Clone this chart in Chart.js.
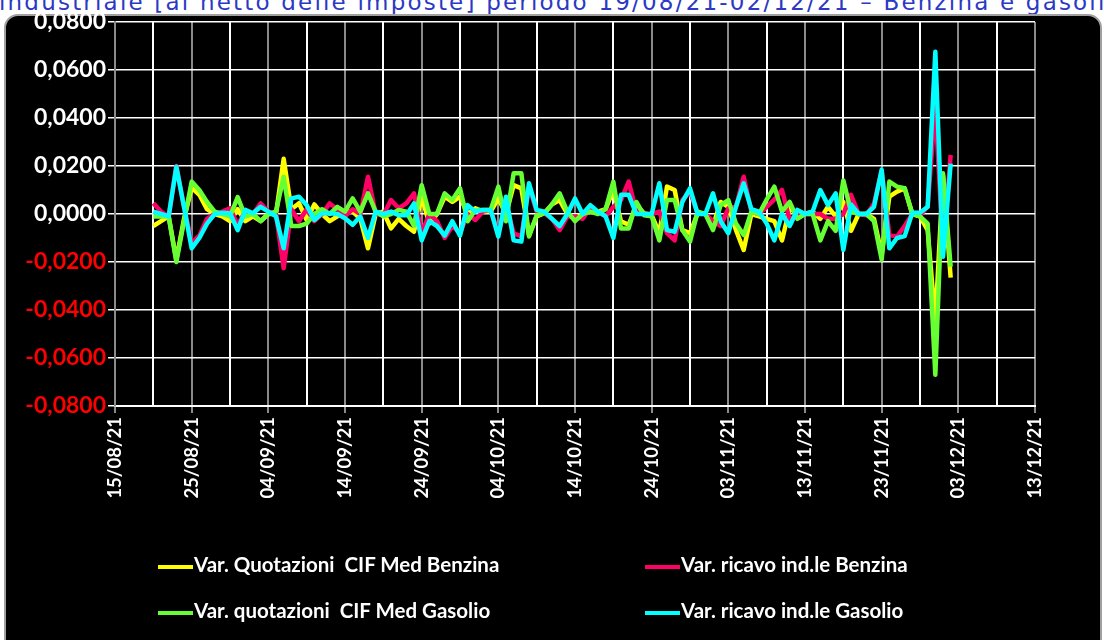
<!DOCTYPE html>
<html>
<head>
<meta charset="utf-8">
<script src="https://cdn.jsdelivr.net/npm/chart.js@4/dist/chart.umd.min.js"></script>
<style>
  body { margin: 0; background: #fff; width: 1104px; height: 640px; overflow: hidden; position: relative; }
  #title { position: absolute; left: -1px; top: -11px; white-space: nowrap; font: 23px "DejaVu Sans", sans-serif; letter-spacing: 2.2px; color: #2b39c4; }
  #box { position: absolute; left: 4px; top: 14px; width: 1094px; height: 660px; background: #000; border: 2px solid #a0a0a0; border-radius: 14px; }
  #myChart { position: absolute; left: 0; top: 0; }
  .leg { position: absolute; font: bold 20.5px Lato, sans-serif; color: #fff; white-space: nowrap; line-height: 22px; }
  .leg span { display: inline-block; width: 35px; height: 4px; vertical-align: middle; margin-right: 1px; }
</style>
</head>
<body>
<div id="title">industriale [al netto delle imposte] periodo 19/08/21-02/12/21 – Benzina e gasolio</div>
<div id="box"></div>
<canvas id="myChart" width="1104" height="640"></canvas>
<div id="legend"></div>
<script>
// giorni contati dal 15/08/21, un punto al giorno dal 20/08/21
const firstDay = 5
const startDate = new Date(2021, 7, 15)

const labels = ['Var. Quotazioni  CIF Med Benzina', 'Var. ricavo ind.le Benzina',
  'Var. quotazioni  CIF Med Gasolio', 'Var. ricavo ind.le Gasolio']
const colors = ['#ffff00', '#ff0066', '#66ff33', '#00ffff']

const cifBenzina = [
  -0.005, -0.003, -0.001, -0.019, -0.002, 0.011, 0.008, 0.002, 0.0, -0.001,
  -0.003, 0.002, -0.003, -0.001, -0.003, 0.0, 0.0, 0.023, 0.002, 0.0045,
  -0.0025, 0.004, 0.0, -0.003, -0.001, 0.001, 0.001, -0.002, -0.0143, 0.0,
  0.001, -0.006, -0.002, -0.005, -0.0074, 0.0072, -0.004, 0.0, 0.0072, 0.005,
  0.0072, 0.0, 0.0024, 0.001, 0.001, 0.0065, 0.0, 0.012, 0.0107, -0.0088,
  -0.001, 0.0003, 0.004, 0.0058, 0.0, -0.002, 0.0, 0.001, 0.001, 0.002,
  0.010, -0.003, -0.0045, 0.0037, 0.0003, -0.0005, -0.008, 0.0114, 0.010, -0.0067,
  -0.008, 0.0003, 0.0003, -0.005, 0.005, 0.003, -0.0067, -0.015, 0.0, -0.001,
  -0.002, -0.003, -0.011, 0.0024, 0.0, 0.0, 0.001, -0.002, 0.003, -0.001,
  0.005, -0.007, 0.0, 0.0, -0.002, -0.017, 0.0072, 0.0093, 0.0107, 0.0,
  -0.001, -0.0067, -0.045, 0.016, -0.0265
]

const ricavoBenzina = [
  0.0045, 0.001, -0.001, 0.020, 0.003, -0.012, -0.009, -0.002, 0.0, 0.001,
  0.0024, -0.0045, 0.001, 0.0, 0.0044, 0.001, 0.0, -0.0226, 0.002, -0.003,
  0.002, -0.003, 0.0, 0.0044, 0.002, -0.001, 0.002, 0.0, 0.0155, 0.0,
  -0.0005, 0.0058, 0.0024, 0.0044, 0.0086, -0.008, 0.0, -0.003, -0.010, -0.005,
  -0.008, 0.0, -0.0025, 0.001, 0.0017, -0.008, 0.004, -0.008, -0.0094, 0.0114,
  0.001, 0.0003, -0.002, -0.0067, -0.001, -0.001, -0.002, 0.0024, 0.001, -0.001,
  0.003, 0.0058, 0.0135, 0.001, 0.0, 0.0, 0.001, -0.008, -0.011, 0.0058,
  0.0093, 0.0003, 0.0, -0.003, -0.005, 0.0024, 0.003, 0.0155, 0.001, 0.0,
  0.003, 0.006, 0.01, -0.0025, 0.0, 0.0, 0.0, 0.0, -0.002, -0.002,
  0.0, 0.008, 0.0, -0.0005, 0.0044, 0.018, -0.0088, -0.0094, -0.005, 0.0,
  -0.0005, 0.003, 0.045, -0.015, 0.0246
]

const cifGasolio = [
  -0.001, -0.001, -0.001, -0.020, -0.003, 0.0135, 0.010, 0.005, 0.001, 0.0,
  -0.001, 0.007, -0.001, 0.0, -0.003, 0.0, 0.001, 0.0155, -0.005, -0.005,
  -0.004, 0.0, 0.002, 0.0, 0.003, 0.001, 0.0065, 0.001, 0.0086, 0.001,
  -0.001, 0.0, 0.0017, 0.001, -0.005, 0.012, 0.0, 0.0, 0.0086, 0.0058,
  0.0107, -0.003, 0.0017, 0.0017, 0.0017, 0.0114, -0.003, 0.017, 0.017, -0.0094,
  -0.0005, 0.0003, 0.004, 0.0086, 0.001, -0.003, 0.0, 0.001, 0.0, 0.002,
  0.0135, -0.006, -0.006, 0.005, -0.0005, -0.001, -0.011, 0.0058, 0.0058, -0.0067,
  -0.0115, 0.001, 0.0, -0.0067, 0.0037, 0.0058, -0.004, -0.0088, 0.001, 0.0,
  0.006, 0.0114, 0.001, 0.005, -0.002, 0.0, 0.0, -0.011, -0.003, -0.007,
  0.014, 0.001, 0.0, 0.0, -0.003, -0.019, 0.0135, 0.0114, 0.0107, 0.0,
  -0.001, -0.004, -0.067, 0.017, -0.022
]

const ricavoGasolio = [
  0.001, 0.0, -0.001, 0.0197, 0.003, -0.0143, -0.010, -0.004, 0.0, 0.0005,
  0.0003, -0.0067, 0.0017, 0.0003, 0.003, 0.001, -0.001, -0.0143, 0.0065, 0.0072,
  0.0037, -0.0025, 0.0003, 0.0003, 0.0, -0.0018, -0.0045, -0.001, -0.010, 0.001,
  0.0, 0.001, -0.0005, -0.0005, 0.0044, -0.011, -0.003, -0.005, -0.009, -0.003,
  -0.009, 0.0037, 0.001, 0.0017, 0.0017, -0.0094, 0.0072, -0.011, -0.0115, 0.0128,
  0.0017, 0.001, -0.002, -0.005, 0.0, 0.0065, 0.0, 0.0037, 0.001, -0.001,
  -0.010, 0.008, 0.008, 0.0, 0.0, 0.0, 0.0128, -0.0067, -0.0074, 0.005,
  0.0107, 0.0, 0.0, 0.0086, -0.003, -0.008, 0.003, 0.0128, 0.002, 0.001,
  -0.004, -0.011, 0.0, -0.005, 0.0017, 0.0, 0.001, 0.010, 0.0037, 0.0086,
  -0.015, 0.004, 0.0, 0.0, 0.003, 0.0185, -0.0143, -0.010, -0.0092, 0.0005,
  0.0005, 0.003, 0.0676, -0.0178, 0.021
]

const series = [cifBenzina, ricavoBenzina, cifGasolio, ricavoGasolio]

function fmtDate(d) {
  const dt = new Date(startDate.getFullYear(), startDate.getMonth(), startDate.getDate() + d)
  const dd = String(dt.getDate()).padStart(2, '0')
  const mm = String(dt.getMonth() + 1).padStart(2, '0')
  return dd + '/' + mm + '/' + String(dt.getFullYear()).slice(2)
}

const ctx = document.getElementById('myChart')

new Chart(ctx, {
  type: 'line',
  data: {
    datasets: series.map((s, i) => ({
      label: labels[i],
      data: s.map((v, j) => ({ x: firstDay + j, y: v })),
      borderColor: colors[i],
      backgroundColor: colors[i],
      borderWidth: 4.5,
      pointRadius: 0,
      tension: 0,
      borderJoinStyle: 'round',
      order: 4 - i
    }))
  },
  options: {
    responsive: false,
    animation: false,
    devicePixelRatio: 1,
    layout: { padding: { top: 22, right: 69, left: 0, bottom: 0 } },
    plugins: { legend: { display: false }, tooltip: { enabled: false } },
    scales: {
      x: {
        type: 'linear',
        min: 0,
        max: 120,
        afterFit: (scale) => { scale.height = 234 },
        ticks: {
          stepSize: 5,
          autoSkip: false,
          maxRotation: 90,
          minRotation: 90,
          padding: 4,
          color: '#fff',
          font: { family: 'Lato', weight: 'bold', size: 18.5 },
          callback: (v) => v % 10 === 0 ? fmtDate(v) : ''
        },
        grid: {
          color: (c) => c.tick && c.tick.value % 10 === 0 ? '#8a8a8a' : '#ffffff',
          tickColor: (c) => c.tick && c.tick.value % 10 === 0 ? '#8a8a8a' : 'rgba(0,0,0,0)',
          lineWidth: 2,
          tickLength: 7
        },
        border: { color: '#ffffff', width: 2 }
      },
      y: {
        min: -0.08,
        max: 0.08,
        afterFit: (scale) => { scale.width = 115 },
        ticks: {
          stepSize: 0.02,
          padding: 2,
          color: (c) => c.tick.value < -0.0001 ? '#ff0000' : '#ffffff',
          font: { family: 'Lato', weight: 'bold', size: 23 },
          callback: (v) => v.toFixed(4).replace('.', ',')
        },
        grid: { color: '#ffffff', lineWidth: 1.5, tickLength: 7, tickColor: '#ffffff' },
        border: { color: '#8a8a8a', width: 2 }
      }
    }
  }
})

// legenda su due colonne
const legPos = [[158, 553], [645, 553], [158, 599], [645, 599]]
const legend = document.getElementById('legend')
labels.forEach((t, i) => {
  const d = document.createElement('div')
  d.className = 'leg'
  d.style.left = legPos[i][0] + 'px'
  d.style.top = legPos[i][1] + 'px'
  d.innerHTML = '<span style="background:' + colors[i] + '"></span>' + t.replace(/  /g, '&nbsp; ')
  legend.appendChild(d)
})
</script>
</body>
</html>
